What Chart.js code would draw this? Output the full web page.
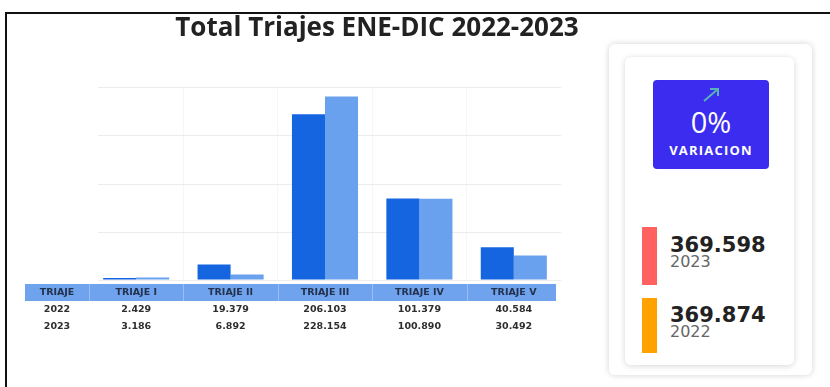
<!DOCTYPE html>
<html lang="es">
<head>
<meta charset="utf-8">
<script src="https://cdn.jsdelivr.net/npm/chart.js@4/dist/chart.umd.min.js"></script>
<style>
    html, body { margin: 0; padding: 0; background: #fff; }
    body { width: 830px; height: 387px; position: relative; overflow: hidden; font-family: 'DejaVu Sans', sans-serif; }
    .frame { position: absolute; left: 5px; top: 12px; width: 840px; height: 400px; border-left: 2px solid #111; border-top: 2px solid #111; }
    .chart-box { position: absolute; left: 0; top: 0; width: 600px; height: 387px; }
    .card-outer { position: absolute; left: 609px; top: 44px; width: 203px; height: 331px; background: #fff; border-radius: 6px; box-shadow: 0 0 6px rgba(0,0,0,0.18); }
    .card-inner { position: absolute; left: 625px; top: 57px; width: 169px; height: 308px; background: #fff; border-radius: 6px; box-shadow: 0 1px 6px rgba(0,0,0,0.16); }
    .variacion { position: absolute; left: 653px; top: 80px; width: 116px; height: 89px; background: #3b2cf0; border-radius: 4px; color: #fff; text-align: center; }
    .variacion svg { position: absolute; left: 48px; top: 6px; }
    .pct { position: absolute; left: 0; width: 100%; top: 27px; font-family: 'Open Sans', sans-serif; font-size: 29px; line-height: 29px; font-weight: 400; }
    .pct-label { position: absolute; left: 0; width: 100%; top: 64px; font-family: 'Open Sans', sans-serif; font-weight: 700; font-size: 13px; line-height: 13px; letter-spacing: 1.2px; }
    .mark { position: absolute; left: 642px; width: 15px; }
    .total { position: absolute; left: 670px; font-weight: 700; font-size: 21px; line-height: 21px; color: #222; }
    .anio { position: absolute; left: 670px; font-size: 16px; line-height: 16px; color: #666; }
</style>
</head>
<body>
<div class="frame"></div>
<div class="chart-box"><canvas id="triajesChart" width="600" height="387"></canvas></div>

<div class="card-outer"></div>
<div class="card-inner"></div>
<div class="variacion">
    <svg width="20" height="18" viewBox="0 0 20 18">
        <line x1="3" y1="15" x2="17" y2="3" stroke="#5ab2b8" stroke-width="2"/>
        <polyline points="9,3 17,3 17,10" fill="none" stroke="#5ab2b8" stroke-width="2"/>
    </svg>
    <div class="pct" id="pct"></div>
    <div class="pct-label">VARIACION</div>
</div>
<div id="totales"></div>

<script>
const titulo = 'Total Triajes ENE-DIC 2022-2023';
const categorias = ['TRIAJE I', 'TRIAJE II', 'TRIAJE III', 'TRIAJE IV', 'TRIAJE V'];
const anios = ['2022', '2023'];
const valores2022 = [2429, 19379, 206103, 101379, 40584];
const valores2023 = [3186, 6892, 228154, 100890, 30492];
const yMax = 240000;
const yPaso = 60000;

// tarjetas laterales
const totalAnios = ['2023', '2022'];
const totalValores = [369598, 369874];
const totalColores = ['#ff6060', '#ffa200'];
const variacion = 0;

// miles con punto, también para 4 cifras
const fmt = n => String(n).replace(/\B(?=(\d{3})+(?!\d))/g, '.');

document.getElementById('pct').innerText = variacion + '%';

const totalesBox = document.getElementById('totales');
const tops = [{ mark: 227, h: 58, num: 235, anio: 254 }, { mark: 298, h: 55, num: 305, anio: 324 }];
totalesBox.innerHTML = totalAnios.map((a, i) => `
    <div class="mark" style="top:${tops[i].mark}px; height:${tops[i].h}px; background:${totalColores[i]};"></div>
    <div class="total" style="top:${tops[i].num}px;">${fmt(totalValores[i])}</div>
    <div class="anio" style="top:${tops[i].anio}px;">${a}</div>
`).join('');

// líneas horizontales: empiezan un poco a la derecha del área
const gridPlugin = {
    id: 'gridTriajes',
    beforeDatasetsDraw(chart) {
        const { ctx, chartArea, scales } = chart;
        const y = scales.y;
        ctx.save();
        ctx.strokeStyle = '#ececec';
        ctx.lineWidth = 1;
        y.ticks.forEach(t => {
            const py = Math.round(y.getPixelForValue(t.value)) + 0.5;
            ctx.beginPath();
            ctx.moveTo(chartArea.left + 9, py);
            ctx.lineTo(chartArea.right, py);
            ctx.stroke();
        });
        ctx.restore();
    }
};

// título y tabla de datos bajo el eje
const tablaPlugin = {
    id: 'tablaTriajes',
    afterDraw(chart) {
        const { ctx, chartArea, scales } = chart;
        const x = scales.x;
        const catW = x.getPixelForValue(1) - x.getPixelForValue(0);
        const base = chartArea.bottom;
        const left = 25;
        const right = chartArea.right - 5;
        const firstEdge = x.getPixelForValue(0) - catW / 2;

        ctx.save();
        ctx.fillStyle = '#222';
        ctx.font = 'bold 26px "Open Sans"';
        ctx.textAlign = 'center';
        ctx.textBaseline = 'alphabetic';
        ctx.fillText(titulo, 377, 36);

        ctx.fillStyle = '#6fa3ee';
        ctx.fillRect(left, base + 4, right - left, 17);
        ctx.strokeStyle = 'rgba(255,255,255,0.3)';
        ctx.lineWidth = 1;
        for (let i = 0; i < categorias.length; i++) {
            const ex = Math.round(x.getPixelForValue(i) - catW / 2) + 0.5;
            ctx.beginPath();
            ctx.moveTo(ex, base + 4);
            ctx.lineTo(ex, base + 21);
            ctx.stroke();
        }

        ctx.textBaseline = 'middle';
        ctx.font = 'bold 9.5px "DejaVu Sans"';
        const col0 = (left + firstEdge) / 2;
        ctx.fillStyle = '#24324d';
        ctx.fillText('TRIAJE', col0, base + 13);
        categorias.forEach((c, i) => ctx.fillText(c, x.getPixelForValue(i), base + 13));

        ctx.fillStyle = '#2e2e2e';
        [valores2022, valores2023].forEach((serie, r) => {
            const y = base + 30 + r * 17;
            ctx.fillText(anios[r], col0, y);
            serie.forEach((v, i) => ctx.fillText(fmt(v), x.getPixelForValue(i), y));
        });
        ctx.restore();
    }
};

const sinBorde = 'rgba(0,0,0,0)';

new Chart(document.getElementById('triajesChart').getContext('2d'), {
    type: 'bar',
    data: {
        labels: categorias,
        datasets: [{
            label: anios[0],
            data: valores2022,
            backgroundColor: '#1565e0',
            barPercentage: 1,
            categoryPercentage: 0.7
        }, {
            label: anios[1],
            data: valores2023,
            backgroundColor: '#6aa1ef',
            barPercentage: 1,
            categoryPercentage: 0.7
        }]
    },
    options: {
        responsive: false,
        animation: false,
        layout: { padding: { left: 89, top: 87, right: 39, bottom: 107 } },
        plugins: { legend: { display: false }, tooltip: { enabled: false }, title: { display: false } },
        scales: {
            x: {
                ticks: { display: false },
                border: { display: false },
                grid: {
                    drawTicks: false,
                    color: c => (c.index >= 1 && c.index < categorias.length) ? '#f6f6f6' : sinBorde
                }
            },
            y: {
                min: 0,
                max: yMax,
                ticks: { display: false, stepSize: yPaso },
                border: { display: false },
                grid: { drawTicks: false, color: sinBorde }
            }
        }
    },
    plugins: [gridPlugin, tablaPlugin]
});
</script>
</body>
</html>
